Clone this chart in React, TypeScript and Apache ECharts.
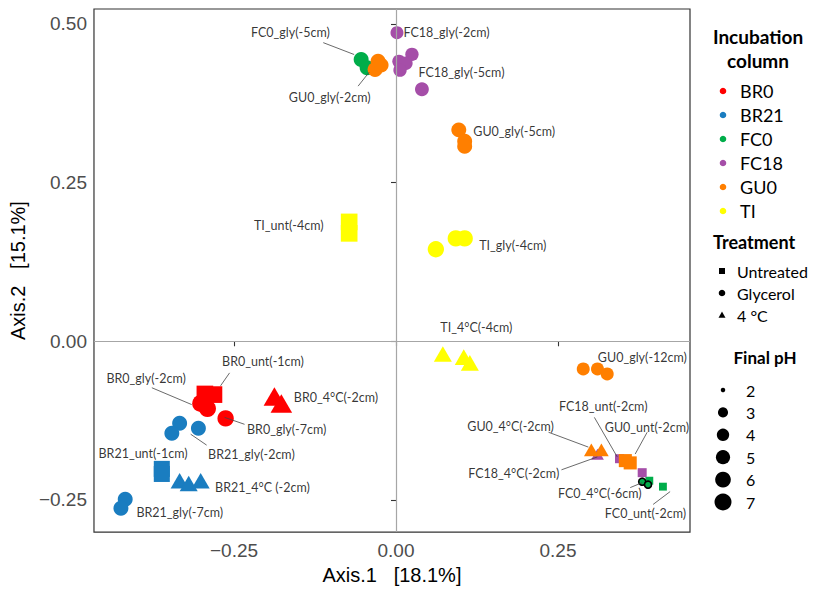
import React, { useEffect, useRef } from "react";
import * as echarts from "echarts";

// ---- data ----
const columns = ["BR0", "BR21", "FC0", "FC18", "GU0", "TI"];
const columnColors = ["#FF0000", "#1A7DC0", "#00AD4A", "#A54EA8", "#FF7F00", "#FFFF00"];
const treatments = ["Untreated", "Glycerol", "4 °C"];
const treatmentCodes = ["U", "G", "C"];
const phLevels = [2, 3, 4, 5, 6, 7];
const xTicks = [-0.25, 0, 0.25];
const yTicks = [-0.25, 0, 0.25, 0.5];

type Pt = [number, number, number, string]; // axis1, axis2, final pH, treatment (Cd = 4 °C drawn as dot)

const br0Points: Pt[] = [
  [-0.295, -0.083, 7, "U"], [-0.281, -0.084, 7, "U"],
  [-0.3015, -0.098, 7, "G"], [-0.291, -0.106, 7, "G"],
  [-0.263, -0.1215, 6.5, "G"],
  [-0.1877, -0.087, 7, "C"], [-0.177, -0.098, 7, "C"],
];
const br21Points: Pt[] = [
  [-0.334, -0.129, 5.5, "G"], [-0.346, -0.145, 5.5, "G"], [-0.305, -0.137, 5.5, "G"],
  [-0.3615, -0.201, 6.5, "U"], [-0.3615, -0.209, 6.5, "U"],
  [-0.334, -0.2196, 5, "C"], [-0.32, -0.224, 5, "C"], [-0.3015, -0.2196, 5, "C"],
  [-0.418, -0.249, 5.5, "G"], [-0.4246, -0.263, 5.5, "G"],
];
const fc0Points: Pt[] = [
  [-0.0538, 0.444, 5.5, "G"], [-0.0446, 0.431, 5.5, "G"],
  [0.391, -0.2196, 2.4, "U"], [0.412, -0.229, 2.4, "U"],
  [0.38, -0.2212, 2.2, "Cd"], [0.389, -0.2259, 2.2, "Cd"],
];
const fc18Points: Pt[] = [
  [0.0015, 0.486, 4.3, "G"], [0.0046, 0.441, 4.5, "G"], [0.0246, 0.452, 4.5, "G"],
  [0.0154, 0.438, 4.5, "G"], [0.0062, 0.427, 4.5, "G"], [0.04, 0.397, 4.8, "G"],
  [0.311, -0.178, 3, "C"],
  [0.345, -0.185, 2.7, "U"], [0.38, -0.207, 2.7, "U"],
];
const gu0Points: Pt[] = [
  [-0.0277, 0.441, 5.5, "G"], [-0.0323, 0.428, 5.5, "G"], [-0.023, 0.435, 5.5, "G"],
  [0.0969, 0.333, 5.5, "G"], [0.106, 0.315, 5.5, "G"], [0.106, 0.307, 5.5, "G"],
  [0.289, -0.0436, 4.3, "G"], [0.311, -0.0436, 4.3, "G"], [0.326, -0.0514, 4.3, "G"],
  [0.3015, -0.171, 3.6, "C"], [0.317, -0.171, 3.6, "C"],
  [0.354, -0.188, 4.5, "U"], [0.3615, -0.1916, 4.5, "U"],
];
const tiPoints: Pt[] = [
  [-0.0723, 0.188, 7, "U"], [-0.0723, 0.17, 7, "U"],
  [0.0615, 0.145, 6.5, "G"], [0.0923, 0.162, 6.5, "G"], [0.106, 0.162, 6.5, "G"],
  [0.0723, -0.02, 5, "C"], [0.1046, -0.025, 5, "C"], [0.114, -0.034, 5, "C"],
];
const pointSets = [br0Points, br21Points, fc0Points, fc18Points, gu0Points, tiPoints];

// sample labels: text, anchor (left-middle) in data units
const sampleLabels: [string, number, number][] = [
  ["FC0_gly(-5cm)", -0.2246, 0.486],
  ["GU0_gly(-2cm)", -0.1662, 0.3847],
  ["FC18_gly(-2cm)", 0.0108, 0.486],
  ["FC18_gly(-5cm)", 0.0338, 0.4237],
  ["GU0_gly(-5cm)", 0.1185, 0.3302],
  ["TI_unt(-4cm)", -0.22, 0.1822],
  ["TI_gly(-4cm)", 0.1277, 0.1511],
  ["TI_4°C(-4cm)", 0.0677, 0.0218],
  ["GU0_gly(-12cm)", 0.3108, -0.0249],
  ["FC18_unt(-2cm)", 0.2508, -0.1028],
  ["GU0_unt(-2cm)", 0.3215, -0.1355],
  ["GU0_4°C(-2cm)", 0.1092, -0.134],
  ["FC18_4°C(-2cm)", 0.1108, -0.2087],
  ["FC0_4°C(-6cm)", 0.2492, -0.2399],
  ["FC0_unt(-2cm)", 0.3215, -0.271],
  ["BR0_unt(-1cm)", -0.2692, -0.0312],
  ["BR0_gly(-2cm)", -0.4477, -0.0592],
  ["BR0_4°C(-2cm)", -0.1585, -0.0888],
  ["BR0_gly(-7cm)", -0.2308, -0.1386],
  ["BR21_gly(-2cm)", -0.2908, -0.1791],
  ["BR21_unt(-1cm)", -0.46, -0.176],
  ["BR21_4°C (-2cm)", -0.28, -0.2305],
  ["BR21_gly(-7cm)", -0.4015, -0.2695],
];
const leaderLines: [number, number, number, number][] = [
  [-0.1123, 0.4704, -0.0646, 0.4517],
  [-0.0585, 0.4019, -0.0415, 0.4237],
  [0.3062, -0.1199, 0.3415, -0.1822],
  [0.3877, -0.1433, 0.3692, -0.1776],
  [0.2354, -0.1433, 0.2969, -0.1667],
  [0.2554, -0.2025, 0.3108, -0.1822],
  [0.3615, -0.2305, 0.38, -0.2227],
  [0.3969, -0.257, 0.4231, -0.2368],
  [-0.2569, -0.0498, -0.2708, -0.0701],
  [-0.3769, -0.0732, -0.3154, -0.0997],
  [-0.2338, -0.1308, -0.2646, -0.1199],
  [-0.2923, -0.1636, -0.3169, -0.1464],
];

// ---- helpers ----
const sizeOf = (pH: number) => 4.5 + 12.5 * Math.sqrt(Math.max(0, pH - 2) / 5);
const shapeFor: Record<string, string> = { U: "rect", G: "circle", C: "triangle", Cd: "circle" };
const dimsFor = (code: string, pH: number) => {
  const s = sizeOf(pH);
  if (code === "C") return [s * 1.27, s * 1.1];
  if (code === "U") return [s * 0.98, s * 0.98];
  return s;
};
const fmt = (v: number) => (v < 0 ? "\u2212" : "") + Math.abs(v).toFixed(2);

const LEG_FONT = "Lato, 'Open Sans', sans-serif";

function buildLegend() {
  const els: any[] = [];
  els.push({ type: "text", x: 758, y: 36, style: { text: "Incubation", font: `bold 19px ${LEG_FONT}`, fill: "#000", align: "center", verticalAlign: "middle" } });
  els.push({ type: "text", x: 758, y: 60, style: { text: "column", font: `bold 19px ${LEG_FONT}`, fill: "#000", align: "center", verticalAlign: "middle" } });
  columns.forEach((c, i) => {
    const y = 91 + 24 * i;
    els.push({ type: "circle", shape: { cx: 723, cy: y, r: 3.3 }, style: { fill: columnColors[i] } });
    els.push({ type: "text", x: 740, y, style: { text: c, font: `18px ${LEG_FONT}`, fill: "#000", align: "left", verticalAlign: "middle" } });
  });
  els.push({ type: "text", x: 713, y: 242, style: { text: "Treatment", font: `bold 18px ${LEG_FONT}`, fill: "#000", align: "left", verticalAlign: "middle" } });
  treatments.forEach((t, i) => {
    const y = 271 + 22 * i;
    const code = treatmentCodes[i];
    if (code === "U") els.push({ type: "rect", shape: { x: 719, y: y - 3, width: 6, height: 6 }, style: { fill: "#000" } });
    else if (code === "G") els.push({ type: "circle", shape: { cx: 722, cy: y, r: 3.3 }, style: { fill: "#000" } });
    else els.push({ type: "polygon", shape: { points: [[722, y - 3.5], [725.5, y + 2.8], [718.5, y + 2.8]] }, style: { fill: "#000" } });
    els.push({ type: "text", x: 737, y, style: { text: t, font: `16px ${LEG_FONT}`, fill: "#000", align: "left", verticalAlign: "middle" } });
  });
  els.push({ type: "text", x: 765, y: 357, style: { text: "Final pH", font: `bold 17px ${LEG_FONT}`, fill: "#000", align: "center", verticalAlign: "middle" } });
  phLevels.forEach((p, i) => {
    const y = 390 + 22.4 * i;
    els.push({ type: "circle", shape: { cx: 723, cy: y, r: sizeOf(p) / 2 }, style: { fill: "#000" } });
    els.push({ type: "text", x: 746, y, style: { text: String(p), font: `16px ${LEG_FONT}`, fill: "#000", align: "left", verticalAlign: "middle" } });
  });
  return els;
}

export default function App() {
  const ref = useRef<HTMLDivElement>(null);
  useEffect(() => {
    if (!ref.current) return;
    const chart = echarts.init(ref.current, null, { renderer: "svg" });
    const pointSeries = columns.map((c, i) => ({
      type: "scatter",
      name: c,
      z: 3,
      silent: true,
      itemStyle: { color: columnColors[i], opacity: 1 },
      data: pointSets[i].map((p) => ({
        value: [p[0], p[1], p[2]],
        symbol: shapeFor[p[3]],
        symbolSize: dimsFor(p[3], p[2]),
        itemStyle: p[3] === "Cd" ? { borderColor: "#000", borderWidth: 1.6 } : undefined,
      })),
    }));
    const option: any = {
      animation: false,
      grid: { left: 92, right: 123, top: 9, bottom: 52, show: true, borderColor: "#333", borderWidth: 1.2, backgroundColor: "#fff" },
      xAxis: {
        type: "value",
        min: -0.4662,
        max: 0.4538,
        axisLine: { show: false },
        axisTick: { show: true, length: 5, lineStyle: { color: "#333", width: 1.1 }, customValues: xTicks },
        axisLabel: { customValues: xTicks, formatter: fmt, fontSize: 19, color: "#4D4D4D", fontFamily: "'Liberation Sans', Arial, sans-serif", margin: 9 },
        splitLine: { show: false },
        name: "Axis.1   [18.1%]",
        nameLocation: "middle",
        nameGap: 23,
        nameTextStyle: { fontSize: 20, color: "#000", fontFamily: "'Liberation Sans', Arial, sans-serif", verticalAlign: "top" },
      },
      yAxis: {
        type: "value",
        min: -0.3006,
        max: 0.5234,
        axisLine: { show: false },
        axisTick: { show: true, length: 5, lineStyle: { color: "#333", width: 1.1 }, customValues: yTicks },
        axisLabel: { customValues: yTicks, formatter: fmt, fontSize: 19, color: "#4D4D4D", fontFamily: "'Liberation Sans', Arial, sans-serif", margin: 7 },
        splitLine: { show: false },
        name: "Axis.2   [15.1%]",
        nameLocation: "middle",
        nameGap: 57,
        nameRotate: 90,
        nameTextStyle: { fontSize: 20, color: "#000", fontFamily: "'Liberation Sans', Arial, sans-serif" },
      },
      series: [
        {
          type: "scatter",
          z: 1,
          silent: true,
          data: [],
          markLine: {
            silent: true,
            symbol: "none",
            label: { show: false },
            lineStyle: { color: "#A6A6A6", width: 1.2, type: "solid" },
            data: [{ xAxis: 0 }, { yAxis: 0 }],
          },
        },
        ...pointSeries,
        {
          type: "lines",
          coordinateSystem: "cartesian2d",
          z: 4,
          silent: true,
          lineStyle: { color: "#444", width: 0.8, opacity: 1 },
          data: leaderLines.map((l) => ({ coords: [[l[0], l[1]], [l[2], l[3]]] })),
        },
        {
          type: "scatter",
          z: 5,
          silent: true,
          symbolSize: 1,
          itemStyle: { color: "rgba(0,0,0,0)" },
          label: {
            show: true,
            position: "right",
            distance: 0,
            formatter: "{b}",
            fontSize: 12.5,
            fontFamily: LEG_FONT,
            color: "#000",
          },
          labelLayout: { hideOverlap: false },
          data: sampleLabels.map((l) => ({ name: l[0], value: [l[1], l[2]] })),
        },
      ],
      graphic: buildLegend(),
    };
    chart.setOption(option);
    return () => chart.dispose();
  }, []);
  return <div ref={ref} style={{ position: "absolute", left: 0, top: 0, width: 813, height: 590, background: "#fff" }} />;
}
